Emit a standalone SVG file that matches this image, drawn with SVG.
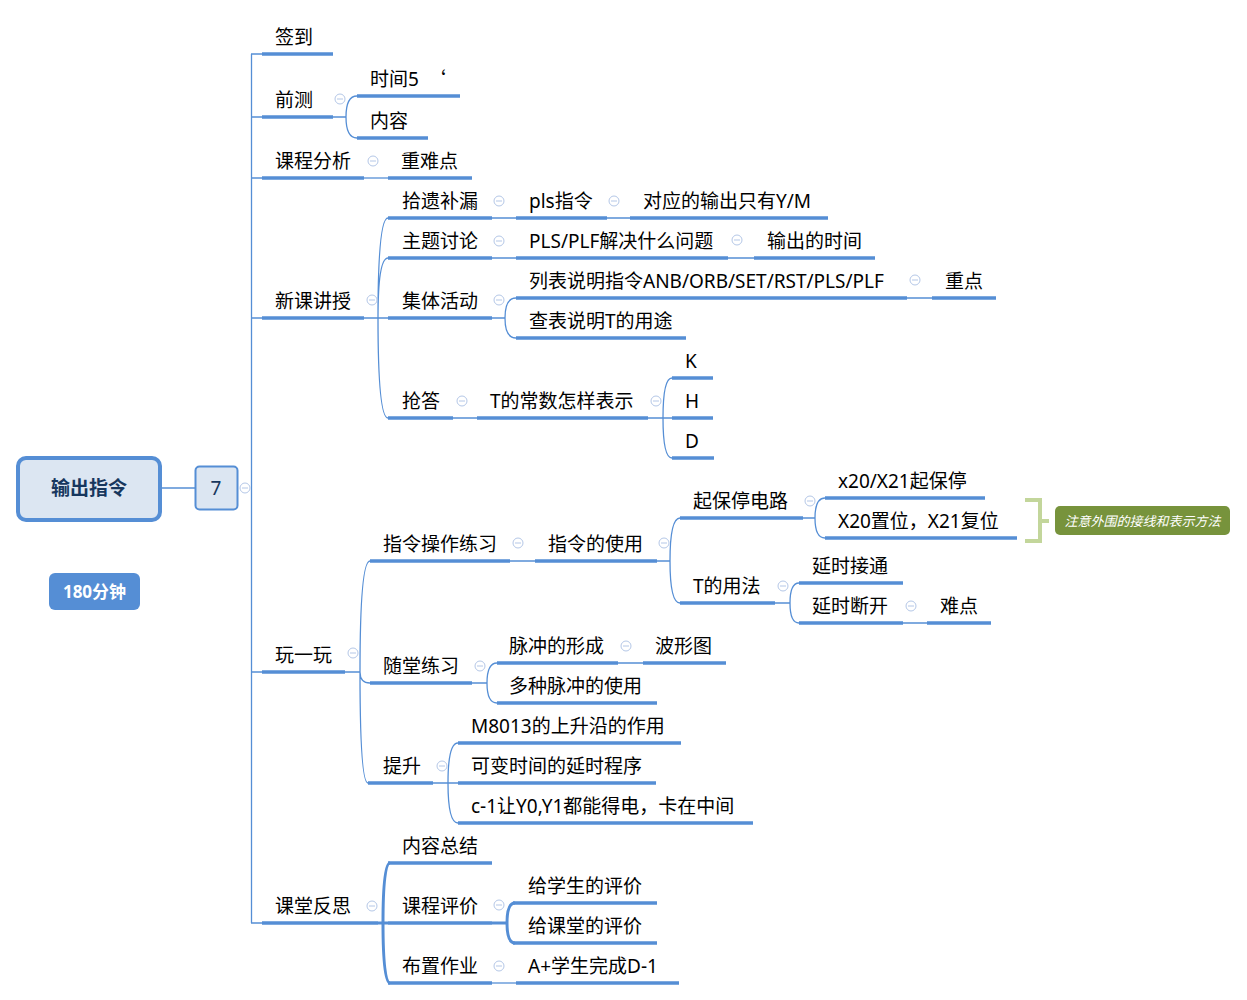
<svg xmlns="http://www.w3.org/2000/svg" width="1247" height="1000" viewBox="0 0 1247 1000">
<style>
text{font-family:"Noto Sans","Noto Sans CJK SC","Microsoft YaHei",sans-serif;font-size:19px;fill:#000}
.cjk{font-family:"Noto Sans CJK SC",sans-serif}
.ul{stroke:#558ed5;stroke-width:3.5;fill:none}
.c{stroke:#558ed5;stroke-width:1.3;fill:none}
.ct{stroke:#558ed5;stroke-width:3;fill:none}
.col circle{fill:#fff;stroke:#b4c7e7;stroke-width:1}
.col path{stroke:#b4c7e7;stroke-width:1}
</style>
<rect width="1247" height="1000" fill="#fff"/>
<g id="connectors">
<path class="c" d="M160,488H195M251.5,54V923M251,54H262M251,117H262M251,178H262M251,318H262M251,672H262M251,923H262"/>
<path class="c" d="M333,117H346M346,117Q346,96 357,96M346,117Q346,138 357,138"/>
<path class="c" d="M364,178H388"/>
<path class="c" d="M364,318H388M378,318Q378,218 388,218M378,318Q378,258 388,258M378,318Q378,418 388,418"/>
<path class="c" d="M492,218H516M607,218H630M492,258H516M728,258H754"/>
<path class="c" d="M492,318H505M505,318Q505,298 516,298M505,318Q505,338 516,338M907,298H932"/>
<path class="c" d="M453,418H477M648,418H672M663,418Q663,378 672,378M663,418Q663,458 672,458"/>
<path class="c" d="M345,672H360M360,672Q360,561 370,561M360,672Q360,683 370,683M360,672Q360,783 368,783"/>
<path class="c" d="M510,561H535M657,561H670M670,561Q670,518 680,518M670,561Q670,603 680,603"/>
<path class="c" d="M803,518H815M815,518Q815,498 825,498M815,518Q815,538 825,538"/>
<path class="c" d="M775,603H790M790,603Q790,583 799,583M790,603Q790,623 799,623M903,623H927"/>
<path class="c" d="M472,683H487M487,683Q487,663 497,663M487,683Q487,703 497,703M618,663H643"/>
<path class="c" d="M433,783H458M448,783Q448,743 458,743M448,783Q448,823 458,823"/>
<path class="ct" d="M378,923H388M383,923Q383,863 390,863M383,923Q383,983 390,983"/>
<path class="ct" d="M492,923H507M507,923Q507,903 515,903M507,923Q507,943 515,943"/>
<path class="c" d="M492,983H516"/>
</g>
<g id="collapse" class="col">
<circle cx="245" cy="488" r="5"/><path d="M242,488H248"/>
<circle cx="340" cy="99" r="5"/><path d="M337,99H343"/>
<circle cx="373" cy="161" r="5"/><path d="M370,161H376"/>
<circle cx="372" cy="300" r="5"/><path d="M369,300H375"/>
<circle cx="499" cy="201" r="5"/><path d="M496,201H502"/>
<circle cx="614" cy="201" r="5"/><path d="M611,201H617"/>
<circle cx="499" cy="241" r="5"/><path d="M496,241H502"/>
<circle cx="737" cy="240" r="5"/><path d="M734,240H740"/>
<circle cx="499" cy="300" r="5"/><path d="M496,300H502"/>
<circle cx="915" cy="280" r="5"/><path d="M912,280H918"/>
<circle cx="462" cy="401" r="5"/><path d="M459,401H465"/>
<circle cx="656" cy="401" r="5"/><path d="M653,401H659"/>
<circle cx="353" cy="653" r="5"/><path d="M350,653H356"/>
<circle cx="518" cy="543" r="5"/><path d="M515,543H521"/>
<circle cx="664" cy="543" r="5"/><path d="M661,543H667"/>
<circle cx="810" cy="501" r="5"/><path d="M807,501H813"/>
<circle cx="783" cy="586" r="5"/><path d="M780,586H786"/>
<circle cx="911" cy="606" r="5"/><path d="M908,606H914"/>
<circle cx="480" cy="666" r="5"/><path d="M477,666H483"/>
<circle cx="626" cy="646" r="5"/><path d="M623,646H629"/>
<circle cx="442" cy="766" r="5"/><path d="M439,766H445"/>
<circle cx="372" cy="906" r="5"/><path d="M369,906H375"/>
<circle cx="499" cy="905" r="5"/><path d="M496,905H502"/>
<circle cx="499" cy="966" r="5"/><path d="M496,966H502"/>
</g>
<g id="root">
<rect x="18" y="458" width="142" height="62" rx="8" fill="#dce6f2" stroke="#558ed5" stroke-width="4"/>
<text x="89" y="495" text-anchor="middle" style="font-weight:bold;fill:#17375e">输出指令</text>
</g>
<g id="n7">
<rect x="195.5" y="466.5" width="42" height="43" rx="4" fill="#dce6f2" stroke="#558ed5" stroke-width="2"/>
<text x="216" y="495" text-anchor="middle" style="fill:#17375e">7</text>
</g>
<g id="time">
<rect x="49" y="573" width="91" height="37" rx="6" fill="#558ed5"/>
<text x="94.5" y="598" text-anchor="middle" style="font-weight:bold;fill:#fff;font-size:17px">180分钟</text>
</g>
<g id="n-qiandao"><text x="275" y="44">签到</text><path class="ul" d="M262,54H333"/></g>
<g id="n-qiance"><text x="275" y="107">前测</text><path class="ul" d="M262,117H333"/></g>
<g id="n-shijian"><text x="370" y="86">时间5 <tspan class="cjk" dx="3">‘</tspan></text><path class="ul" d="M357,96H460"/></g>
<g id="n-neirong"><text x="370" y="128">内容</text><path class="ul" d="M357,138H428"/></g>
<g id="n-kcfx"><text x="275" y="168">课程分析</text><path class="ul" d="M262,178H364"/></g>
<g id="n-znd"><text x="401" y="168">重难点</text><path class="ul" d="M388,178H472"/></g>
<g id="n-xkjs"><text x="275" y="308">新课讲授</text><path class="ul" d="M262,318H364"/></g>
<g id="n-sybl"><text x="402" y="208">拾遗补漏</text><path class="ul" d="M388,218H492"/></g>
<g id="n-pls"><text x="529" y="208">pls指令</text><path class="ul" d="M516,218H607"/></g>
<g id="n-dy"><text x="643" y="208">对应的输出只有Y/M</text><path class="ul" d="M630,218H828"/></g>
<g id="n-ztlt"><text x="402" y="248">主题讨论</text><path class="ul" d="M388,258H492"/></g>
<g id="n-plsplf"><text x="529" y="248">PLS/PLF解决什么问题</text><path class="ul" d="M516,258H728"/></g>
<g id="n-scsj"><text x="767" y="248">输出的时间</text><path class="ul" d="M754,258H875"/></g>
<g id="n-jthd"><text x="402" y="308">集体活动</text><path class="ul" d="M388,318H492"/></g>
<g id="n-lbsm"><text x="529" y="288">列表说明指令ANB/ORB/SET/RST/PLS/PLF</text><path class="ul" d="M516,298H907"/></g>
<g id="n-zd"><text x="945" y="288">重点</text><path class="ul" d="M932,298H996"/></g>
<g id="n-cbsm"><text x="529" y="328">查表说明T的用途</text><path class="ul" d="M516,338H686"/></g>
<g id="n-qd"><text x="402" y="408">抢答</text><path class="ul" d="M388,418H453"/></g>
<g id="n-tcs"><text x="490" y="408">T的常数怎样表示</text><path class="ul" d="M477,418H648"/></g>
<g id="n-k"><text x="685" y="368">K</text><path class="ul" d="M672,378H713"/></g>
<g id="n-h"><text x="685" y="408">H</text><path class="ul" d="M672,418H713"/></g>
<g id="n-d"><text x="685" y="448">D</text><path class="ul" d="M672,458H714"/></g>
<g id="n-wyw"><text x="275" y="662">玩一玩</text><path class="ul" d="M262,672H345"/></g>
<g id="n-zlczlx"><text x="383" y="551">指令操作练习</text><path class="ul" d="M370,561H510"/></g>
<g id="n-zldsy"><text x="548" y="551">指令的使用</text><path class="ul" d="M535,561H657"/></g>
<g id="n-qbt"><text x="693" y="508">起保停电路</text><path class="ul" d="M680,518H803"/></g>
<g id="n-x20"><text x="838" y="488">x20/X21起保停</text><path class="ul" d="M825,498H985"/></g>
<g id="n-x20zw"><text x="838" y="528">X20置位，X21复位</text><path class="ul" d="M825,538H1017"/></g>
<g id="summary">
<path d="M1025,500H1040V541H1025M1040,521H1049" fill="none" stroke="#c3d69b" stroke-width="4"/>
<rect x="1055" y="506" width="175" height="29" rx="5" fill="#77933c"/>
<text x="1142.5" y="526" text-anchor="middle" style="fill:#fff;font-size:13px;font-style:italic">注意外围的接线和表示方法</text>
</g>
<g id="n-tyf"><text x="693" y="593">T的用法</text><path class="ul" d="M680,603H775"/></g>
<g id="n-ysjt"><text x="812" y="573">延时接通</text><path class="ul" d="M799,583H903"/></g>
<g id="n-ysdk"><text x="812" y="613">延时断开</text><path class="ul" d="M799,623H903"/></g>
<g id="n-nd"><text x="940" y="613">难点</text><path class="ul" d="M927,623H991"/></g>
<g id="n-stlx"><text x="383" y="673">随堂练习</text><path class="ul" d="M370,683H472"/></g>
<g id="n-mcxc"><text x="509" y="653">脉冲的形成</text><path class="ul" d="M497,663H618"/></g>
<g id="n-bxt"><text x="655" y="653">波形图</text><path class="ul" d="M643,663H726"/></g>
<g id="n-dzmc"><text x="509" y="693">多种脉冲的使用</text><path class="ul" d="M497,703H657"/></g>
<g id="n-ts"><text x="383" y="773">提升</text><path class="ul" d="M368,783H433"/></g>
<g id="n-m8013"><text x="471" y="733">M8013的上升沿的作用</text><path class="ul" d="M458,743H681"/></g>
<g id="n-kbsj"><text x="471" y="773">可变时间的延时程序</text><path class="ul" d="M458,783H656"/></g>
<g id="n-c1"><text x="471" y="813">c-1让Y0,Y1都能得电，卡在中间</text><path class="ul" d="M458,823H753"/></g>
<g id="n-ktfs"><text x="275" y="913">课堂反思</text><path class="ul" d="M262,923H378"/></g>
<g id="n-nrzj"><text x="402" y="853">内容总结</text><path class="ul" d="M388,863H492"/></g>
<g id="n-kcpj"><text x="402" y="913">课程评价</text><path class="ul" d="M388,923H492"/></g>
<g id="n-bzzy"><text x="402" y="973">布置作业</text><path class="ul" d="M388,983H492"/></g>
<g id="n-gxs"><text x="528" y="893">给学生的评价</text><path class="ul" d="M513,903H657"/></g>
<g id="n-gkt"><text x="528" y="933">给课堂的评价</text><path class="ul" d="M513,943H657"/></g>
<g id="n-a"><text x="528" y="973">A+学生完成D-1</text><path class="ul" d="M516,983H679"/></g>
</svg>
